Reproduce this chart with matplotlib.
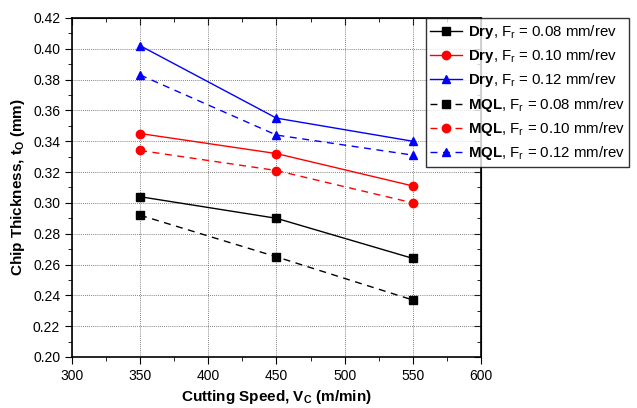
import numpy as np
import matplotlib
matplotlib.use('Agg')
import matplotlib.pyplot as plt
from matplotlib.ticker import MultipleLocator

plt.rcParams['font.family'] = ['Liberation Sans', 'DejaVu Sans']
plt.rcParams['mathtext.fontset'] = 'custom'
plt.rcParams['mathtext.rm'] = 'Liberation Sans'
plt.rcParams['mathtext.it'] = 'Liberation Sans:italic'
plt.rcParams['mathtext.bf'] = 'Liberation Sans:bold'

# data
speed = [350, 450, 550]
dry_008 = [0.304, 0.290, 0.264]
dry_010 = [0.345, 0.332, 0.311]
dry_012 = [0.402, 0.355, 0.340]
mql_008 = [0.292, 0.265, 0.237]
mql_010 = [0.334, 0.321, 0.300]
mql_012 = [0.383, 0.344, 0.331]

series = [
    (dry_008, 'k', 's', '-', r'$\mathbf{Dry}$, F$_\mathrm{r}$ = 0.08 mm/rev'),
    (dry_010, 'r', 'o', '-', r'$\mathbf{Dry}$, F$_\mathrm{r}$ = 0.10 mm/rev'),
    (dry_012, 'b', '^', '-', r'$\mathbf{Dry}$, F$_\mathrm{r}$ = 0.12 mm/rev'),
    (mql_008, 'k', 's', (0, (5, 4)), r'$\mathbf{MQL}$, F$_\mathrm{r}$ = 0.08 mm/rev'),
    (mql_010, 'r', 'o', (0, (5, 4)), r'$\mathbf{MQL}$, F$_\mathrm{r}$ = 0.10 mm/rev'),
    (mql_012, 'b', '^', (0, (5, 4)), r'$\mathbf{MQL}$, F$_\mathrm{r}$ = 0.12 mm/rev'),
]

fig = plt.figure(figsize=(6.37, 4.08), dpi=100)
ax = fig.add_axes([0.113, 0.125, 0.642, 0.831])

for y, c, m, ls, lab in series:
    ax.plot(speed, y, color=c, marker=m, linestyle=ls, linewidth=1,
            markersize=6, label=lab)

ax.set_xlim(300, 600)
ax.set_ylim(0.20, 0.42)
ax.xaxis.set_major_locator(MultipleLocator(50))
ax.xaxis.set_minor_locator(MultipleLocator(25))
ax.yaxis.set_major_locator(MultipleLocator(0.02))
ax.yaxis.set_minor_locator(MultipleLocator(0.01))
ax.yaxis.set_major_formatter(matplotlib.ticker.FormatStrFormatter('%.2f'))
ax.grid(True, which='major', color='0.35', linestyle=(0, (1, 1.5)), linewidth=0.6)
ax.tick_params(which='both', direction='out', labelsize=10)
ax.tick_params(which='major', length=5)
ax.tick_params(which='minor', length=3)
for sp in ax.spines.values():
    sp.set_linewidth(1.2)

# mirrored inward ticks on top / right
axt = ax.secondary_xaxis('top')
axt.xaxis.set_major_locator(MultipleLocator(50))
axt.xaxis.set_minor_locator(MultipleLocator(25))
axt.tick_params(which='both', direction='in', labeltop=False)
axt.tick_params(which='major', length=5)
axt.tick_params(which='minor', length=3)
axr = ax.secondary_yaxis('right')
axr.yaxis.set_major_locator(MultipleLocator(0.02))
axr.yaxis.set_minor_locator(MultipleLocator(0.01))
axr.tick_params(which='both', direction='in', labelright=False)
axr.tick_params(which='major', length=5)
axr.tick_params(which='minor', length=3)

ax.set_xlabel(r'Cutting Speed, V$_\mathbf{C}$ (m/min)', fontsize=11, fontweight='bold')
ax.set_ylabel(r'Chip Thickness, t$_\mathbf{O}$ (mm)', fontsize=11, fontweight='bold')

leg = fig.legend(loc='upper left', bbox_to_anchor=(0.668, 0.955), fontsize=10.8,
                 frameon=True, fancybox=False, edgecolor='black',
                 handlelength=2.1, borderpad=0.3, labelspacing=0.42,
                 handletextpad=0.4, borderaxespad=0)
leg.get_frame().set_linewidth(1)

fig.savefig('out.png', dpi=100)
